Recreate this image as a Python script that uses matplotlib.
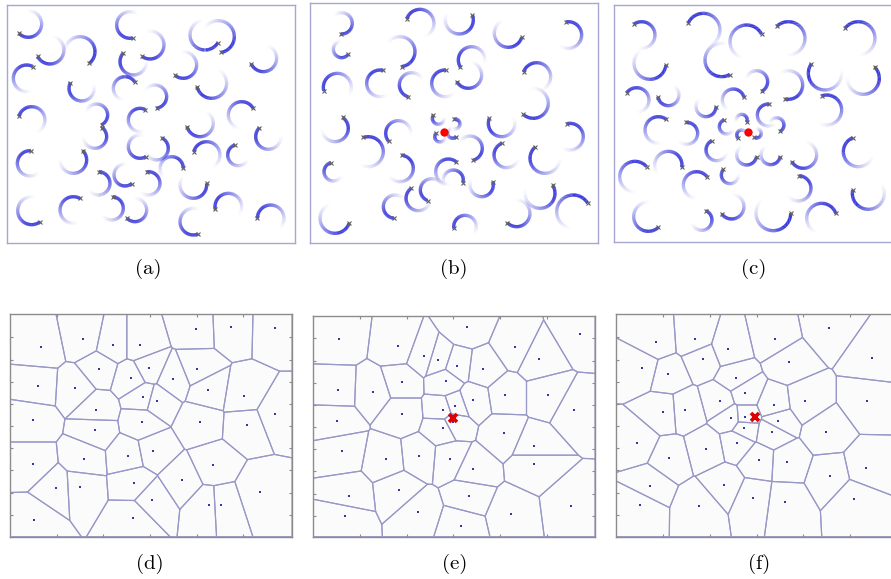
import numpy as np
import matplotlib.pyplot as plt
from matplotlib.collections import LineCollection

# All coordinates are in "sample units" (1 unit = 1/3 pixel of the 891x579 figure),
# measured from the top-left corner of each panel's cell.

# ---- top row: robot trajectories (cx, cy, head angle [deg], turn dir, radius) ----
arcs_a = [
    (85, 72, 135, -1, 40), (150, 150, 153, -1, 42), (240, 155, 51, -1, 45),
    (390, 75, 79, 1, 40), (450, 135, 125, -1, 42), (400, 185, 220, -1, 40),
    (80, 235, 298, -1, 40), (245, 265, 207, -1, 38), (375, 265, 328, -1, 35),
    (465, 290, 82, -1, 35), (550, 195, 129, -1, 40), (635, 250, 167, -1, 45),
    (615, 105, 32, 1, 45), (655, 110, 79, -1, 48), (790, 175, 156, -1, 40),
    (725, 345, 330, -1, 40), (95, 360, 196, 1, 40), (290, 345, 63, -1, 33),
    (285, 410, 309, 1, 35), (420, 360, 298, -1, 35), (600, 370, 166, -1, 40),
    (805, 410, 225, -1, 38), (90, 490, 273, -1, 38), (220, 480, 315, 1, 40),
    (420, 440, 59, 1, 35), (470, 445, 297, 1, 35), (515, 505, 0, -1, 35),
    (620, 465, 195, 1, 40), (715, 465, 252, -1, 32), (295, 550, 273, 1, 35),
    (375, 525, 51, 1, 33), (445, 550, 262, 1, 35), (580, 555, 353, 1, 40),
    (95, 632, 55, 1, 42), (220, 630, 300, -1, 40), (335, 625, 275, 1, 35),
    (405, 630, 135, -1, 35), (580, 665, 69, 1, 40), (685, 620, 168, 1, 40),
    (812, 655, 180, 1, 40),
]
arcs_b = [
    (125, 70, 95, -1, 32), (125, 148, 37, 1, 25), (360, 70, 200, 1, 42),
    (478, 60, 340, 1, 42), (625, 100, 17, 1, 42), (805, 105, 260, 1, 40),
    (300, 155, 84, -1, 45), (515, 180, 147, 1, 40), (505, 225, 150, -1, 40),
    (112, 262, 166, 1, 42), (240, 250, 284, -1, 40), (335, 255, 106, 1, 37),
    (435, 250, 274, -1, 40), (710, 230, 200, 1, 42), (700, 310, 132, -1, 45),
    (105, 385, 305, 1, 40), (295, 400, 140, 1, 38), (205, 455, 251, 1, 45),
    (605, 370, 202, -1, 40), (810, 410, 256, 1, 40), (300, 505, 277, 1, 40),
    (100, 515, 255, -1, 28), (735, 475, 229, -1, 45), (510, 445, 74, -1, 37),
    (620, 465, 247, -1, 38), (445, 515, 310, -1, 38), (460, 540, 15, -1, 30),
    (545, 555, 343, 1, 35), (720, 580, 327, 1, 45), (820, 635, 329, -1, 50),
    (355, 595, 234, -1, 37), (395, 570, 111, 1, 34), (285, 620, 95, 1, 35),
    (105, 655, 19, 1, 45), (495, 680, 171, 1, 34), (650, 640, 135, -1, 40),
    (415, 355, 214, -1, 18), (465, 372, 258, 1, 15), (420, 410, 220, -1, 16),
    (458, 400, 40, 1, 15),
]
arcs_c = [
    (125, 105, 236, 1, 40), (310, 90, 205, 1, 50), (365, 180, 61, 1, 50),
    (440, 125, 333, -1, 50), (565, 115, 226, 1, 50), (775, 115, 217, 1, 50),
    (150, 190, 6, 1, 48), (675, 220, 215, -1, 50), (790, 235, 315, 1, 48),
    (470, 245, 63, -1, 33), (565, 255, 103, -1, 43), (110, 300, 216, 1, 37),
    (205, 285, 170, -1, 32), (400, 300, 346, -1, 33), (680, 330, 251, 1, 45),
    (318, 320, 0, 1, 30), (175, 390, 306, -1, 40), (260, 400, 266, 1, 33),
    (505, 345, 275, -1, 33), (530, 375, 61, -1, 22), (380, 380, 250, -1, 22),
    (425, 360, 25, -1, 17), (425, 405, 140, 1, 15), (470, 400, 120, -1, 14),
    (350, 450, 242, -1, 32), (440, 465, 10, 1, 30), (512, 465, 10, 1, 29),
    (610, 465, 150, -1, 40), (775, 455, 248, -1, 45), (105, 530, 319, -1, 46),
    (205, 495, 10, -1, 41), (290, 555, 322, -1, 40), (390, 525, 220, -1, 26),
    (595, 565, 274, 1, 38), (805, 580, 192, -1, 48), (145, 650, 47, 1, 44),
    (305, 660, 295, 1, 31), (395, 620, 144, -1, 37), (520, 640, 0, 1, 52),
    (665, 655, 341, -1, 45),
]
target_b = (432, 395)
target_c = (445, 397)

# ---- bottom row: Voronoi generators ----
d_x = [123, 249, 340, 421, 589, 692, 824, 298, 447, 393, 520, 592, 113, 226, 430, 471, 624, 733, 288, 825,
       98, 286, 426, 600, 740, 460, 384, 251, 98, 640, 402, 545, 167, 241, 779, 457, 626, 663, 103, 400]
d_y = [127, 101, 120, 120, 71, 67, 70, 191, 189, 218, 221, 192, 243, 250, 277, 288, 255, 273, 315, 327,
       345, 374, 352, 351, 360, 437, 452, 462, 477, 481, 533, 526, 549, 545, 561, 584, 601, 599, 644, 640]
e_x = [118, 295, 500, 646, 841, 372, 415, 470, 550, 716, 113, 218, 305, 437, 616, 743, 520, 466, 430, 823,
       305, 110, 458, 428, 612, 126, 259, 357, 451, 701, 519, 701, 146, 296, 506, 812, 134, 353, 633, 483]
e_y = [102, 124, 65, 127, 88, 152, 165, 183, 193, 162, 256, 260, 232, 228, 270, 270, 285, 304, 316, 314,
       326, 348, 352, 368, 385, 438, 463, 453, 461, 423, 493, 478, 572, 556, 573, 604, 633, 621, 627, 662]
f_x = [168, 284, 524, 686, 385, 309, 127, 566, 817, 204, 407, 435, 360, 521, 616, 802, 190, 256, 393, 435,
       534, 433, 516, 677, 111, 411, 319, 208, 476, 562, 798, 690, 371, 149, 460, 556, 763, 120, 298]
f_y = [110, 102, 101, 68, 133, 163, 189, 170, 160, 208, 218, 264, 288, 300, 288, 288, 321, 316, 339, 336,
       347, 368, 381, 380, 414, 413, 431, 459, 466, 471, 489, 513, 539, 542, 579, 592, 581, 600, 602]
target_e = (458, 338)
target_f = (466, 337)

labels = ['(a)', '(b)', '(c)', '(d)', '(e)', '(f)']

W, H = 891, 579
fig = plt.figure(figsize=(W / 100, H / 100), dpi=100)


def add_panel(ox, oy, lim):
    x0, x1, y0, y1 = lim
    left, right = ox + x0 / 3, ox + x1 / 3
    top, bottom = oy + y0 / 3, oy + y1 / 3
    ax = fig.add_axes([left / W, 1 - bottom / H, (right - left) / W, (bottom - top) / H])
    ax.set_xlim(x0, x1)
    ax.set_ylim(y1, y0)
    return ax


def draw_arcs(ax, arcs, span=235, n=80):
    blue = np.array([0.12, 0.12, 0.84])
    for cx, cy, head, d, r in arcs:
        t = np.radians(head + d * np.linspace(0, span, n))
        pts = np.column_stack([cx + r * np.cos(t), cy + r * np.sin(t)]).reshape(-1, 1, 2)
        segs = np.concatenate([pts[:-1], pts[1:]], axis=1)
        s = np.linspace(0, 1, n - 1)
        cols = np.zeros((n - 1, 4))
        cols[:, :3] = blue
        cols[:, 3] = np.clip(1.3 * (1 - s), 0, 1) ** 1.5
        ax.add_collection(LineCollection(segs, colors=cols, linewidths=2.4, capstyle='butt'))
        hx = cx + r * np.cos(np.radians(head))
        hy = cy + r * np.sin(np.radians(head))
        ax.plot(hx, hy, marker='x', ms=2.5, mew=0.8, color='#606060', zorder=3)


def clip(poly, nrm, c):
    out = []
    m = len(poly)
    for k in range(m):
        a, b = poly[k], poly[(k + 1) % m]
        fa, fb = a @ nrm - c, b @ nrm - c
        if fa <= 0:
            out.append(a)
        if fa * fb < 0:
            out.append(a + (b - a) * fa / (fa - fb))
    return out


def draw_voronoi(ax, xs, ys, lim):
    x0, x1, y0, y1 = lim
    pts = np.column_stack([xs, ys]).astype(float)
    for i, p in enumerate(pts):
        poly = [np.array(v, float) for v in [(x0, y0), (x1, y0), (x1, y1), (x0, y1)]]
        for j, q in enumerate(pts):
            if i != j and len(poly) > 0:
                poly = clip(poly, q - p, (q @ q - p @ p) / 2)
        poly = np.array(poly + [poly[0]])
        ax.plot(poly[:, 0], poly[:, 1], color='#9898c8', lw=0.85, zorder=1)
    ax.plot(pts[:, 0], pts[:, 1], 's', ms=1.8, color='#3535a8', mew=0, zorder=2)


top_panels = [((0, 0), (22, 884, 14, 730), arcs_a, None),
              ((300, 0), (30, 895, 10, 730), arcs_b, target_b),
              ((600, 0), (43, 900, 14, 727), arcs_c, target_c)]
for (ox, oy), lim, arcs, tgt in top_panels:
    ax = add_panel(ox, oy, lim)
    draw_arcs(ax, arcs)
    if tgt is not None:
        ax.plot(*tgt, 'o', ms=6, color='#ff0000', mew=0, zorder=4)
    ax.set_xticks([])
    ax.set_yticks([])
    for sp in ax.spines.values():
        sp.set_color('#a6a6d0')
        sp.set_linewidth(1.0)

bottom_panels = [((0, 305), (30, 876, 28, 695), d_x, d_y, None, 170, 97),
                 ((300, 305), (40, 885, 33, 695), e_x, e_y, target_e, 180, 100),
                 ((600, 305), (47, 900, 28, 695), f_x, f_y, target_f, 190, 97)]
for (ox, oy), lim, xs, ys, tgt, xt0, yt0 in bottom_panels:
    ax = add_panel(ox, oy, lim)
    ax.set_facecolor('#fbfbfb')
    draw_voronoi(ax, xs, ys, lim)
    if tgt is not None:
        ax.plot(*tgt, 'x', ms=6, mew=2.6, color='#dd0000', zorder=4)
    ax.set_xticks(np.arange(xt0, lim[1] - 10, 140))
    ax.set_yticks(np.arange(yt0, lim[3] - 10, 66.5))
    ax.tick_params(direction='in', length=2.5, width=0.8, color='#8c8c8c',
                   top=True, right=True, labelleft=False, labelbottom=False)
    for sp in ax.spines.values():
        sp.set_color('#8c8c8c')
        sp.set_linewidth(1.0)

label_pos = [(148, 269), (454, 269), (754, 269), (150, 564), (455, 564), (759, 564)]
for (lx, ly), lab in zip(label_pos, labels):
    fig.text(lx / W, 1 - ly / H, lab, ha='center', va='center', fontsize=15,
             family=['cmr10', 'DejaVu Serif'])

fig.savefig('out.png', dpi=100)
